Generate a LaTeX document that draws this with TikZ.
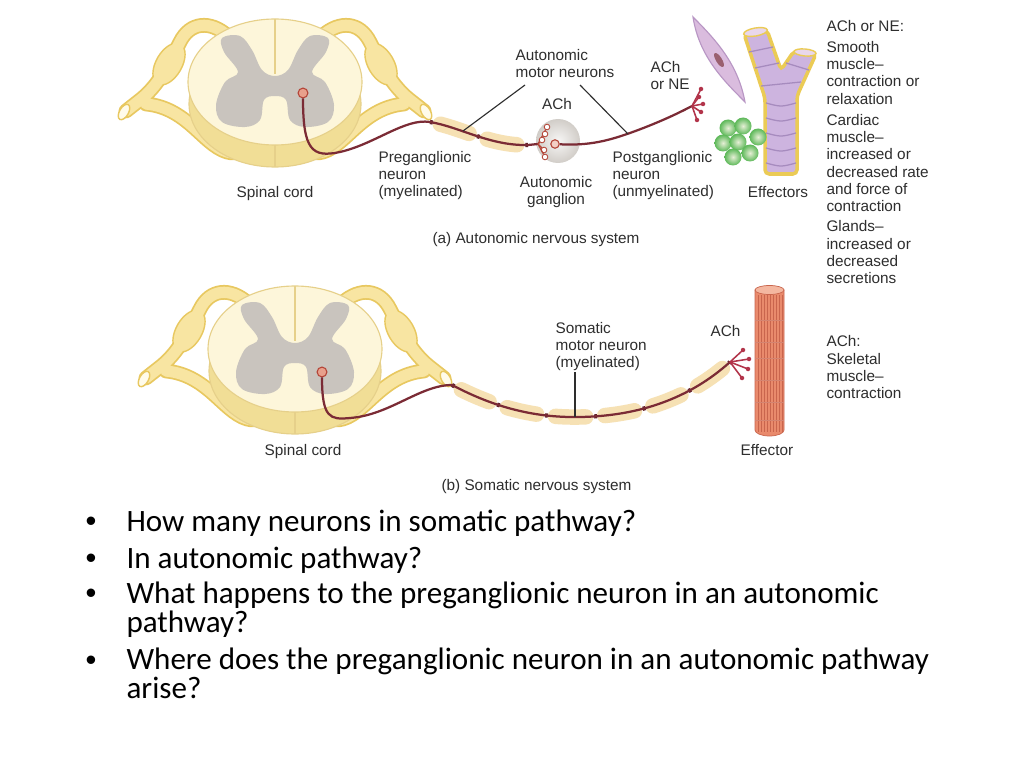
\documentclass[tikz,border=0pt]{standalone}
\usepackage{fontspec}
\setmainfont{Liberation Sans}
\newfontfamily\slidefont{Carlito}
\usetikzlibrary{positioning}
\definecolor{facecol}{HTML}{FDF6DA}
\definecolor{bandcol}{HTML}{F1DE96}
\definecolor{cordedge}{HTML}{E6D08A}
\definecolor{graycol}{HTML}{C9C4BE}
\definecolor{nerveedge}{HTML}{E8C860}
\definecolor{nervefill}{HTML}{F8E5A2}
\definecolor{nerveendc}{HTML}{FFFBEA}
\definecolor{axoncol}{HTML}{7B2B35}
\definecolor{myelincol}{HTML}{F6E1B4}
\definecolor{termcol}{HTML}{B2344A}
\definecolor{somafill}{HTML}{E8A08C}
\definecolor{somaedge}{HTML}{B5473A}
\definecolor{vesselfill}{HTML}{CDB4DF}
\definecolor{vesseledge}{HTML}{EBCB55}
\definecolor{ringcol}{HTML}{A68BBE}
\definecolor{spindlefill}{HTML}{DABCDE}
\definecolor{spindleedge}{HTML}{B896C4}
\definecolor{nucleuscol}{HTML}{9A6070}
\definecolor{glandout}{HTML}{5CB858}
\definecolor{glandin}{HTML}{E6EFD6}
\definecolor{musclecol}{HTML}{E98A6C}
\definecolor{stripecol}{HTML}{C9654D}
\definecolor{muscletop}{HTML}{F4B7A0}
\definecolor{textcol}{HTML}{2E2E2E}
\tikzset{every picture/.style={line width=0.75pt},
  lbl/.style={font=\fontsize{10.9}{12.15}\selectfont, text=textcol, inner sep=0pt, align=left, anchor=base west},
  lblc/.style={lbl, align=center, anchor=base},
  bul/.style={font=\slidefont\fontsize{22.1}{20.6}\selectfont, inner sep=0pt, align=left, anchor=base west},
  dot/.style={font=\fontsize{22}{22}\selectfont, inner sep=0pt, anchor=base west},
  nerveout/.style={draw=nerveedge, line width=10.5pt, line cap=round},
  nervein/.style={draw=nervefill, line width=8pt, line cap=round},
  drg/.style={fill=nervefill, draw=nerveedge, line width=1pt},
  nerveend/.style={fill=nerveendc, draw=nerveedge, line width=1pt},
  cordband/.style={fill=bandcol, draw=cordedge, line width=0.8pt},
  cordface/.style={fill=facecol, draw=cordedge, line width=0.8pt},
  graymat/.style={fill=graycol},
  axon/.style={draw=axoncol, line width=1.6pt},
  twig/.style={draw=termcol, line width=1.1pt},
  myelin/.style={draw=myelincol, line width=11pt, line cap=round, dash pattern=on 21.5pt off 13.5pt, dash phase=27.5pt},
  nodemark/.style={draw=axoncol!80!black, line width=3pt, dash pattern=on 2pt off 33pt},
  soma/.style={circle, fill=somafill, draw=somaedge, line width=0.8pt, minimum size=7pt, inner sep=0pt},
  knob/.style={circle, fill=termcol, minimum size=3.2pt, inner sep=0pt},
  ring/.style={circle, fill=white, draw=somaedge, line width=0.6pt, minimum size=4pt, inner sep=0pt},
  leader/.style={draw=textcol, line width=0.8pt},
}
\newcommand{\nervepath}{(228,36) .. controls (210,20) and (190,22) .. (180,42) .. controls (168,66) and (158,86) .. (140,100) -- (126,111) (232,153) .. controls (205,150) and (190,108) .. (146,104)}
\newcommand{\spinalnerve}{%
  \draw[nerveout] \nervepath;
  \filldraw[drg, shift={(169,64)}, rotate=-30] (0,0) ellipse [x radius=13, y radius=23];
  \draw[nervein] \nervepath;
  \filldraw[nerveend, shift={(124,112)}, rotate=-30] (0,0) ellipse [x radius=4.5, y radius=8.5];
}
\newcommand{\spinalcord}{%
  \spinalnerve
  \begin{scope}[shift={(550,0)}, xscale=-1]
    \spinalnerve
  \end{scope}
  \filldraw[cordband] (275,104) ellipse [x radius=86, y radius=63];
  \filldraw[cordface] (275,82) ellipse [x radius=87, y radius=63];
  \fill[graymat] plot[smooth cycle, tension=0.6] coordinates {(222,38) (240,36) (252,50) (262,70) (275,76) (288,70) (298,50) (310,36) (328,38) (326,52) (312,72) (325,82) (334,105) (328,122) (305,127) (290,120) (286,100) (275,96) (264,100) (260,120) (245,127) (222,122) (216,105) (225,82) (238,72) (224,52)};
  \draw[cordedge] (275,19) -- (275,74);
  \draw[cordedge] (275,145) -- (275,167);
}

\begin{document}
\begin{tikzpicture}[x=0.025cm, y=-0.025cm]
\fill[white] (0,0) rectangle (1024,768);
\useasboundingbox (0,0) rectangle (1024,768);
% (a) autonomic
\spinalcord
\node[soma] (cb1) at (303,93) {};
\shade[inner color=white!85!graycol, outer color=graycol!85] (558,141) circle [radius=22];
\draw[myelin] (430,122) .. controls (460,127) and (490,146) .. (528,145);
\draw[nodemark] (430,122) .. controls (460,127) and (490,146) .. (528,145);
\coordinate (pt1) at (538,144);
\draw[axon] (cb1.south) .. controls (303,150) and (312,158) .. (340,152) .. controls (375,144) and (405,118) .. (430,122) .. controls (460,127) and (490,146) .. (528,145) -- (pt1);
\foreach \p in {(547,127),(545,134),(542,140),(544,150),(545,157)}
  \draw[draw=somaedge, line width=0.8pt] (pt1) -- \p node[ring] {};
\node[soma, fill=somafill!50, minimum size=6pt] (gcb) at (555,144) {};
\coordinate (pt2) at (692,106);
\draw[axon] (gcb) .. controls (590,146) and (610,140) .. (630,133) .. controls (655,124) and (675,115) .. (pt2);
\foreach \p in {(701,89),(699,97),(703,104),(701,112),(697,120)}
  \draw[twig] (pt2) -- \p node[knob] {};
% effectors
\filldraw[fill=spindlefill, draw=spindleedge, line width=0.8pt] (693,17) .. controls (716,40) and (738,64) .. (745,102) .. controls (723,80) and (699,56) .. (693,17) -- cycle;
\fill[nucleuscol, shift={(719,60)}, rotate=31.5] (0,0) ellipse [x radius=3, y radius=8];
\filldraw[fill=vesselfill, draw=vesseledge, line width=2.5pt, rounded corners=3pt] (744,34) -- (767,30) -- (781,70) -- (794,51) -- (816,54) -- (797,96) -- (797,174) -- (765,174) -- (765,98) -- cycle;
\foreach \y in {103,118,133,148,163}
  \draw[ringcol, line width=0.9pt] (766,\y) .. controls (781,\y+4) .. (796,\y);
\draw[ringcol, line width=0.9pt] (749,52) -- (773,47) (755,68) -- (779,63) (761,86) -- (801,82) (786,63) -- (809,70);
\filldraw[fill=spindlefill!60, draw=vesseledge, line width=1pt, shift={(755.5,32)}, rotate=10] (0,0) ellipse [x radius=12, y radius=4];
\filldraw[fill=spindlefill!60, draw=vesseledge, line width=1pt, shift={(805,52.5)}, rotate=-5] (0,0) ellipse [x radius=11, y radius=3.5];
\foreach \p in {(728,128),(743,126),(723,143),(738,142),(758,137),(750,153),(733,157)}
  \shade[inner color=glandin, outer color=glandout] \p circle [radius=8.5];
% labels (a)
\node[lblc] (sca) at (275,197) {Spinal cord};
\node[lbl] (pre) at (378,196.7) {Preganglionic\\neuron\\(myelinated)};
\node[lbl] (amn) at (515,77.1) {Autonomic\\motor neurons};
\node[lblc] (ach1) at (557,110) {ACh};
\node[lbl] (ach2) at (650,89.1) {ACh\\or NE};
\node[lblc] (gang) at (556,204.1) {Autonomic\\ganglion};
\node[lbl] (post) at (612,196.2) {Postganglionic\\neuron\\(unmyelinated)};
\node[lblc] (effs) at (778,197) {Effectors};
\node[lbl] (capa) at (432,243) {(a) Autonomic nervous system};
\node[lbl] (txta) at (826,283.2) {ACh or NE:\\[2.9pt]Smooth\\muscle--\\contraction or\\relaxation\\[3.3pt]Cardiac\\muscle--\\increased or\\decreased rate\\and force of\\contraction\\[2.6pt]Glands--\\increased or\\decreased\\secretions};
\coordinate (la) at (525,85);
\coordinate (lb) at (580,85);
\coordinate (pa) at (463,131);
\coordinate (pb) at (628,134);
\draw[leader] (la) -- (pa);
\draw[leader] (lb) -- (pb);
% (b) somatic
\begin{scope}[shift={(20,267)}]
  \spinalcord
\end{scope}
\node[soma] (cb2) at (322,372) {};
\draw[myelin] (452,385) .. controls (490,405) and (530,418) .. (580,417) .. controls (640,416) and (690,398) .. (730,362);
\draw[nodemark] (452,385) .. controls (490,405) and (530,418) .. (580,417) .. controls (640,416) and (690,398) .. (730,362);
\coordinate (pt3) at (730,362);
\draw[axon] (cb2.south) .. controls (322,418) and (330,420) .. (350,418) .. controls (390,415) and (420,385) .. (452,385) .. controls (490,405) and (530,418) .. (580,417) .. controls (640,416) and (690,398) .. (pt3);
\foreach \p in {(743,350),(749,359),(748,369),(742,378)}
  \draw[twig] (pt3) -- \p node[knob] {};
\filldraw[fill=musclecol, draw=stripecol, line width=0.5pt] (755,290) -- (755,430) arc[start angle=180, end angle=0, x radius=14.5, y radius=6] -- (784,290) -- cycle;
\foreach \x in {758,761,...,782}
  \draw[stripecol, line width=0.5pt] (\x,295) -- (\x,432);
\foreach \y in {320,342,358,380,402,420}
  \draw[stripecol!80, line width=0.4pt] (755,\y) -- (784,\y);
\filldraw[fill=muscletop, draw=stripecol, line width=0.5pt] (769.5,290) ellipse [x radius=14.5, y radius=4.5];
% labels (b)
\node[lblc] (scb) at (303,455) {Spinal cord};
\node[lbl] (smn) at (555,367.2) {Somatic\\motor neuron\\(myelinated)};
\node[lbl] (ach3) at (710,336) {ACh};
\node[lblc] (eff) at (767,455) {Effector};
\node[lbl] (capb) at (441,490) {(b) Somatic nervous system};
\node[lbl] (txtb) at (826,398.2) {ACh:\\Skeletal\\muscle--\\contraction};
\coordinate (lc) at (575,372);
\coordinate (pc) at (575,417);
\draw[leader] (lc) -- (pc);
% questions
\foreach \y in {531.7,568,603,670}
  \node[dot] at (85,\y) {•};
\node[bul] (q1) at (126,531.7) {How many neurons in somatic pathway?};
\node[bul] (q2) at (126,568) {In autonomic pathway?};
\node[bul] (q3) at (126,632) {What happens to the preganglionic neuron in an autonomic\\pathway?};
\node[bul] (q4) at (126,698) {Where does the preganglionic neuron in an autonomic pathway\\arise?};
\end{tikzpicture}
\end{document}
